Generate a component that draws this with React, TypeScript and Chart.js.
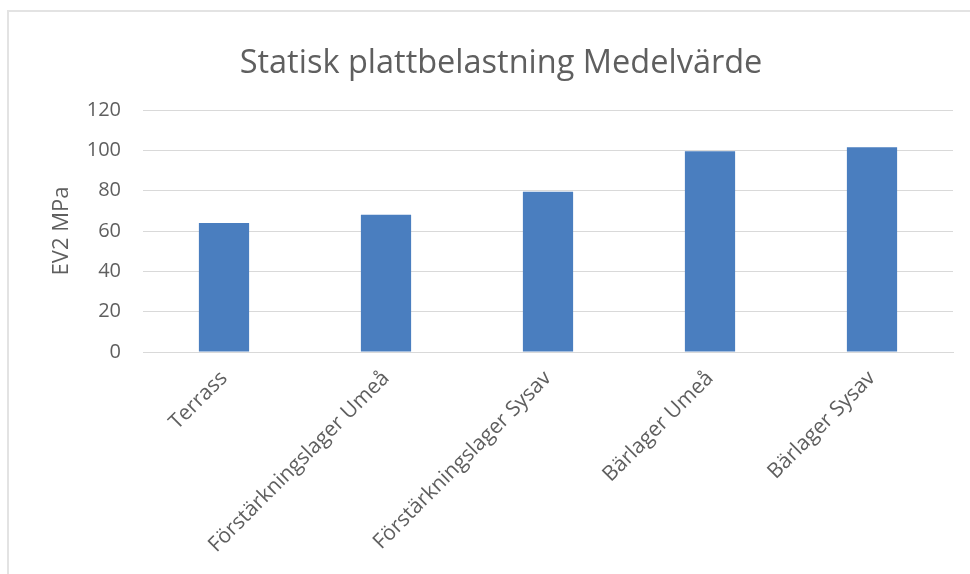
import React, { useEffect, useRef } from "react";
import { Chart, registerables } from "chart.js";

Chart.register(...registerables);

const categories = [
  "Terrass",
  "Förstärkningslager Umeå",
  "Förstärkningslager Sysav",
  "Bärlager Umeå",
  "Bärlager Sysav",
];
const values = [64, 68, 79.5, 99.5, 101.5];
const yTicks = [0, 20, 40, 60, 80, 100, 120];
const chartTitle = "Statisk plattbelastning Medelvärde";
const yAxisTitle = "EV2 MPa";

const TEXT = "#5f5f5f";
const GRID = "#d9d9d9";
const BAR = "#4a7ebf";
const FONT = "'Open Sans', 'Liberation Sans', sans-serif";

export default function App() {
  const ref = useRef<HTMLCanvasElement | null>(null);

  useEffect(() => {
    if (!ref.current) return;
    const chart = new Chart(ref.current, {
      type: "bar",
      data: {
        labels: categories,
        datasets: [
          {
            data: values,
            backgroundColor: BAR,
            borderWidth: 0,
            barPercentage: 0.31,
            categoryPercentage: 1,
          },
        ],
      },
      options: {
        animation: false,
        responsive: false,
        maintainAspectRatio: false,
        layout: { padding: { top: 44, left: 49, right: 17, bottom: 0 } },
        plugins: {
          legend: { display: false },
          tooltip: { enabled: false },
          title: {
            display: true,
            text: chartTitle,
            color: TEXT,
            font: { family: FONT, size: 32.5, weight: "normal" },
            padding: { top: 0, bottom: 27 },
          },
        },
        scales: {
          x: {
            grid: { display: false, drawTicks: false },
            border: { color: GRID, width: 1 },
            ticks: {
              color: TEXT,
              font: { family: FONT, size: 21 },
              minRotation: 45,
              maxRotation: 45,
              padding: 14,
              autoSkip: false,
            },
            afterFit: (scale: any) => {
              scale.height = 222;
            },
          },
          y: {
            min: 0,
            max: 120,
            afterBuildTicks: (scale: any) => {
              scale.ticks = yTicks.map((v) => ({ value: v }));
            },
            grid: { color: GRID, drawTicks: false, lineWidth: 1 },
            border: { display: false },
            ticks: {
              color: TEXT,
              font: { family: FONT, size: 20 },
              padding: 22,
            },
            title: {
              display: true,
              text: yAxisTitle,
              color: TEXT,
              font: { family: FONT, size: 22 },
              padding: { top: 0, bottom: 0 },
            },
            afterFit: (scale: any) => {
              scale.width = 94;
            },
          },
        },
      },
    });
    return () => chart.destroy();
  }, []);

  return (
    <div
      style={{
        position: "fixed",
        left: 0,
        top: 0,
        width: 970,
        height: 574,
        overflow: "hidden",
        background: "#fff",
      }}
    >
      <div
        style={{
          position: "absolute",
          left: 7,
          top: 10,
          width: 990,
          height: 600,
          border: "2px solid #e3e3e3",
          boxSizing: "border-box",
        }}
      />
      <canvas
        ref={ref}
        width={970}
        height={574}
        style={{ position: "absolute", left: 0, top: 0, width: 970, height: 574 }}
      />
    </div>
  );
}
